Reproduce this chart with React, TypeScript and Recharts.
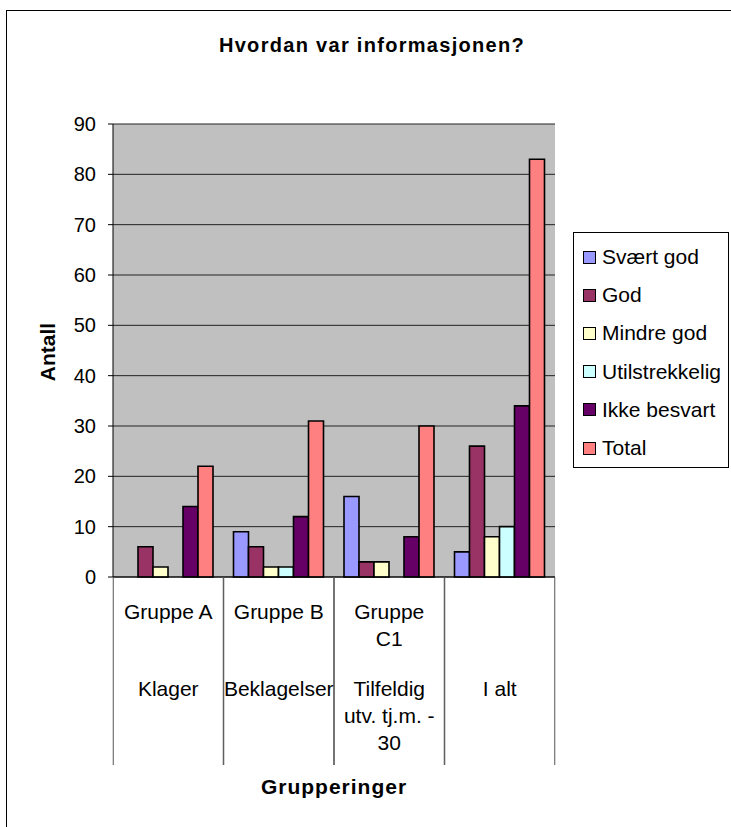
import React from 'react';
import { BarChart, Bar, XAxis, YAxis, CartesianGrid } from 'recharts';

const categories = ['A', 'B', 'C1', 'Alt'];
const groupLines = [['Gruppe A'], ['Gruppe B'], ['Gruppe', 'C1'], []];
const typeLines = [['Klager'], ['Beklagelser'], ['Tilfeldig', 'utv. tj.m. -', '30'], ['I alt']];

const seriesNames = ['Svært god', 'God', 'Mindre god', 'Utilstrekkelig', 'Ikke besvart', 'Total'];
const seriesColors = ['#9999FF', '#993366', '#FFFFCC', '#CCFFFF', '#660066', '#FF8080'];

const sværtGod = [0, 9, 16, 5];
const god = [6, 6, 3, 26];
const mindreGod = [2, 2, 3, 8];
const utilstrekkelig = [0, 2, 0, 10];
const ikkeBesvart = [14, 12, 8, 34];
const total = [22, 31, 30, 83];

const yTicks = [0, 10, 20, 30, 40, 50, 60, 70, 80, 90];

const seriesValues = [sværtGod, god, mindreGod, utilstrekkelig, ikkeBesvart, total];

const data = categories.map((key, i) => {
  const row: any = { key };
  seriesNames.forEach((name, s) => {
    row[name] = seriesValues[s][i];
  });
  return row;
});

const FONT = '"Liberation Sans", Arial, sans-serif';

// category tick drawn like Excel's table-ish multi-level labels
const CategoryTick = (props: any) => {
  const { x, y, payload } = props;
  const i = categories.indexOf(payload.value);
  const half = 55;
  return (
    <g>
      <line x1={x - half} y1={y} x2={x - half} y2={y + 188} stroke="#555" />
      <line x1={x + half} y1={y} x2={x + half} y2={y + 188} stroke="#555" />
      {groupLines[i].map((t, k) => (
        <text key={'g' + k} x={x} y={y + 34 + k * 27} textAnchor="middle" dominantBaseline="central"
          fontSize={21} fontFamily={FONT} fill="#000">{t}</text>
      ))}
      {typeLines[i].map((t, k) => (
        <text key={'t' + k} x={x} y={y + 111 + k * 27} textAnchor="middle" dominantBaseline="central"
          fontSize={21} fontFamily={FONT} fill="#000">{t}</text>
      ))}
    </g>
  );
};

export default function App() {
  return (
    <div style={{ position: 'absolute', left: 0, top: 0, width: 731, height: 827, background: '#fff', fontFamily: FONT }}>
      <div style={{ position: 'absolute', left: 6, top: 10, width: 725, height: 817, borderLeft: '1px solid #000', borderTop: '1px solid #000', boxSizing: 'border-box' }} />
      <div style={{ position: 'absolute', left: 0, width: 744, top: 34, textAlign: 'center', fontWeight: 'bold', fontSize: 20, letterSpacing: 1.3 }}>
        Hvordan var informasjonen?
      </div>
      <div style={{ position: 'absolute', left: 48, top: 352, transform: 'translate(-50%, -50%) rotate(-90deg)', fontWeight: 'bold', fontSize: 21, whiteSpace: 'nowrap' }}>
        Antall
      </div>
      <div style={{ position: 'absolute', left: 0, width: 668, top: 775, textAlign: 'center', fontWeight: 'bold', fontSize: 21, letterSpacing: 1 }}>
        Grupperinger
      </div>
      <div style={{ position: 'absolute', left: 0, top: 0 }}>
        <BarChart width={731} height={827} data={data} margin={{ top: 124, right: 176, bottom: 60, left: 0 }}
          barCategoryGap={10} barGap={0}>
          <CartesianGrid vertical={false} fill="#C0C0C0" stroke="#222" strokeOpacity={1} />
          <XAxis dataKey="key" height={190} tick={<CategoryTick />} tickLine={false} tickSize={0} tickMargin={0}
            axisLine={{ stroke: '#000' }} interval={0} />
          <XAxis xAxisId="top" orientation="top" dataKey="key" height={0} tick={false} tickLine={false}
            axisLine={{ stroke: '#888' }} />
          <YAxis width={113} domain={[0, 90]} ticks={yTicks} interval={0} tickSize={5} tickMargin={12}
            tick={{ fontSize: 20, fill: '#000', fontFamily: FONT }} tickLine={{ stroke: '#000' }} axisLine={{ stroke: '#000' }} />
          <YAxis yAxisId="right" orientation="right" width={0} tick={false} tickLine={false}
            axisLine={{ stroke: '#888' }} domain={[0, 90]} />
          {seriesNames.map((name, s) => (
            <Bar key={name} dataKey={name} fill={seriesColors[s]} stroke="#000" strokeWidth={1.6}
              isAnimationActive={false} />
          ))}
        </BarChart>
      </div>
      <div style={{ position: 'absolute', left: 573, top: 232, width: 156, height: 236, border: '1px solid #000', boxSizing: 'border-box', paddingTop: 5 }}>
        {seriesNames.map((name, s) => (
          <div key={name} style={{ height: 38.2, display: 'flex', alignItems: 'center', fontSize: 21, whiteSpace: 'nowrap' }}>
            <span style={{ display: 'inline-block', width: 11, height: 11, background: seriesColors[s], border: '1px solid #000', marginLeft: 9, marginRight: 6 }} />
            {name}
          </div>
        ))}
      </div>
    </div>
  );
}
